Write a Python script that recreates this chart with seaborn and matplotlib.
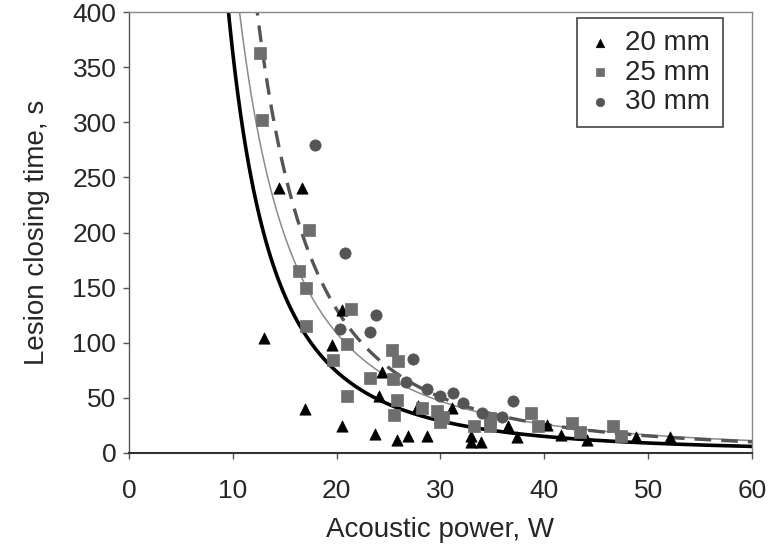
import numpy as np
import pandas as pd
import seaborn as sns
import matplotlib.pyplot as plt

# data
tri_power = [13.0, 14.5, 16.7, 17.0, 19.6, 20.5, 20.5, 23.7, 24.4, 24.1, 25.8, 26.9, 27.8,
             28.7, 31.1, 32.9, 32.9, 33.9, 36.5, 37.4, 40.3, 41.6, 44.1, 48.8, 52.1]
tri_time = [104, 240, 240, 40, 98, 130, 24, 17, 73, 52, 12, 15, 43,
            15, 41, 15, 10, 10, 24, 14, 25, 16, 12, 14, 14]

sq_power = [12.6, 12.8, 17.3, 16.4, 17.1, 17.1, 19.7, 21.0, 21.4, 21.0, 23.2, 25.3, 25.9, 25.4,
            25.8, 25.5, 28.2, 29.7, 30.0, 30.2, 33.2, 34.8, 34.8, 38.7, 39.4, 42.7, 43.4, 46.6, 47.4]
sq_time = [363, 302, 202, 165, 150, 115, 84, 99, 131, 52, 68, 93, 83, 67,
           48, 34, 41, 38, 28, 33, 24, 32, 24, 36, 24, 27, 19, 24, 15]

circ_power = [17.9, 20.8, 23.8, 20.3, 23.2, 27.4, 26.7, 28.7, 30.0, 31.2, 32.2, 34.0, 35.9, 37.0]
circ_time = [279, 181, 125, 112, 110, 85, 64, 58, 52, 54, 45, 36, 33, 47]

labels = ['20 mm', '25 mm', '30 mm']

# power-law trendlines t = a * P^b (coefficients)
fit_a = [72500, 53600, 140000]
fit_b = [-2.3, -2.07, -2.33]

sns.set_style('white')
plt.rcParams['font.family'] = ['Liberation Sans', 'DejaVu Sans']

fig = plt.figure(figsize=(7.81, 5.53), dpi=100)
ax = fig.add_axes([0.165, 0.181, 0.798, 0.797])

# trendlines
p_grid = np.linspace(8, 60, 400)
curves = [
    dict(color='black', lw=2.6, ls='-'),
    dict(color='#8a8a8a', lw=1.1, ls='-'),
    dict(color='#555555', lw=2.4, ls=(0, (5, 3))),
]
for a, b, st in zip(fit_a, fit_b, curves):
    df = pd.DataFrame({'p': p_grid, 't': a * p_grid ** b})
    sns.lineplot(data=df, x='p', y='t', ax=ax, color=st['color'],
                 linewidth=st['lw'], linestyle=st['ls'], legend=False)

sns.scatterplot(x=tri_power, y=tri_time, ax=ax, marker='^', color='black',
                s=66, edgecolor='black', linewidth=0.5, label=labels[0], zorder=3)
sns.scatterplot(x=sq_power, y=sq_time, ax=ax, marker='s', color='#6e6e6e',
                s=66, edgecolor='#6e6e6e', linewidth=0.5, label=labels[1], zorder=3)
sns.scatterplot(x=circ_power, y=circ_time, ax=ax, marker='o', color='#555555',
                s=66, edgecolor='#555555', linewidth=0.5, label=labels[2], zorder=3)

ax.set_xlim(0, 60)
ax.set_ylim(0, 400)
ax.set_xticks(range(0, 61, 10))
ax.set_yticks(range(0, 401, 50))
ax.tick_params(axis='both', labelsize=19, direction='out', length=4, width=1,
               color='#555555', left=True, bottom=True)
ax.tick_params(axis='x', pad=15)
ax.tick_params(axis='y', pad=5)
for sp in ax.spines.values():
    sp.set_color('#888888')
    sp.set_linewidth(1)
ax.spines['left'].set_color('#555555')
ax.spines['bottom'].set_color('#333333')
ax.spines['bottom'].set_linewidth(1.5)

ax.set_xlabel('Acoustic power, W', fontsize=20, labelpad=10)
ax.set_ylabel('Lesion closing time, s', fontsize=20, labelpad=16)

leg = ax.legend(loc='upper right', fontsize=20, frameon=True, fancybox=False,
                edgecolor='#444444', framealpha=1, handletextpad=0.5,
                borderpad=0.45, labelspacing=0.12, handlelength=0.8,
                borderaxespad=0.2, bbox_to_anchor=(0.962, 1.0), markerscale=0.75)
leg.get_frame().set_linewidth(1.2)

plt.savefig('out.png', dpi=100)
